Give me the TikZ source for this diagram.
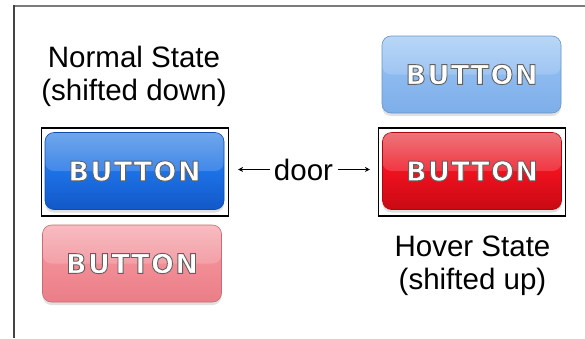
\documentclass[tikz,border=0pt]{standalone}
\usepackage{fontspec}
\setmainfont{Liberation Sans}
\newfontfamily\btnfont{DejaVu Sans}
\usetikzlibrary{arrows.meta}

% Embossed caption for the glossy buttons: white face, grey stroked outline
% (PDF text render mode 2 = fill, then stroke)
\newcommand\btnword{B\kern1.4pt U\kern1.4pt T\kern1.4pt T\kern1.4pt O\kern1.4pt N}
\newcommand\embossed{%
  \btnfont\bfseries\fontsize{27}{27}\selectfont\color{white}%
  \special{pdf:literal direct 2 Tr 0.9 w 0.38 G}}
\newcommand\plaintext{\special{pdf:literal direct 0 Tr}}

\definecolor{frameline}{HTML}{444444}
\definecolor{blueTop}{HTML}{5596E8}
\definecolor{blueMid}{HTML}{1D72E6}
\definecolor{blueBot}{HTML}{1258C8}
\definecolor{redTop}{HTML}{EA5A62}
\definecolor{redMid}{HTML}{F0101E}
\definecolor{redBot}{HTML}{C80A14}
\definecolor{skyTop}{HTML}{ACD0F6}
\definecolor{skyMid}{HTML}{8CBAF0}
\definecolor{skyBot}{HTML}{7EAEE9}
\definecolor{pinkTop}{HTML}{F6B0B6}
\definecolor{pinkMid}{HTML}{F28D96}
\definecolor{pinkBot}{HTML}{EA7E88}

\tikzset{
  btn/.style={
    rectangle, rounded corners=9pt, inner sep=0pt,
    minimum width=179pt, minimum height=77pt,
    preaction={fill=black, opacity=0.12, transform canvas={yshift=-3pt}},
    top color=#1Top, bottom color=#1Bot, middle color=#1Mid,
    draw=#1Bot!85!black, line width=0.6pt,
    path picture={\fill[white, opacity=0.16]
      (path picture bounding box.north west) rectangle (path picture bounding box.east);},
    font=\embossed},
  statebox/.style={draw=black, line width=1.2pt, inner sep=0pt,
    minimum width=187pt, minimum height=88pt},
  caption/.style={align=center, inner sep=0pt,
    font=\fontsize{29.5}{33}\selectfont},
  pointer/.style={line width=1.3pt, -{Stealth[length=5pt, width=5pt]}}
}

\begin{document}
\begin{tikzpicture}[x=1pt, y=-1pt]
  \useasboundingbox (0,0) rectangle (585,338);
  \fill[white] (0,0) rectangle (585,338);

  % outer frame (open to the right and bottom)
  \draw[frameline!70, line width=1.8pt] (13,6) -- (585,6);
  \draw[frameline, line width=2pt] (14,5.1) -- (14,338);

  % selection frames
  \node[statebox] (nbox) at (135,172) {};
  \node[statebox] (hbox) at (472,172) {};

  % sprite halves
  \node[btn=blue] (nbtn) at (134.5,171) {\btnword\plaintext};
  \node[btn=red] (hbtn) at (472,171) {\btnword\plaintext};
  \node[btn=sky] (hghost) at (471.5,74.5) {\btnword\plaintext};
  \node[btn=pink] (nghost) at (132,263.5) {\btnword\plaintext};

  % labels
  \node[caption, anchor=north] (nlabel) at (134,45.5) {Normal State\\(shifted down)};
  \node[caption, anchor=north] (hlabel) at (472.5,236) {Hover State\\(shifted up)};
  \node[inner sep=0pt, anchor=base, font=\fontsize{29.5}{33}\selectfont]
    (door) at (303.5,180) {door};

  % door arrows
  \draw[pointer, shorten <=4pt, shorten >=9pt] (door.west) -- (door.west -| nbox.east);
  \draw[pointer, shorten <=5pt, shorten >=8pt] (door.east) -- (door.east -| hbox.west);
\end{tikzpicture}
\end{document}
